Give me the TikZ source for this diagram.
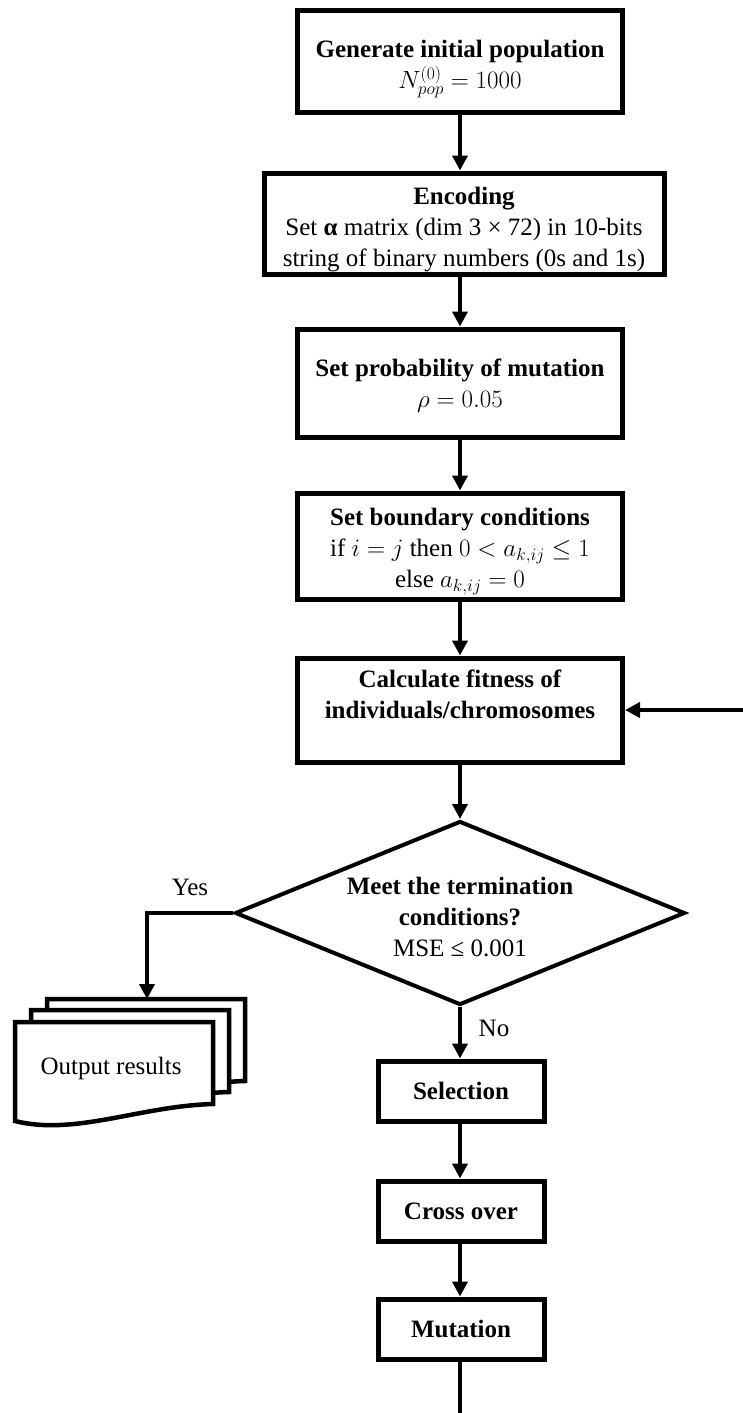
\documentclass[tikz,border=0pt]{standalone}
\usepackage{fix-cm}
\usepackage{fontspec}
\setmainfont{Liberation Serif}
\usetikzlibrary{arrows.meta,shapes.geometric}
\newcommand\myrise[1]{\rule{0pt}{#1pt}}
\begin{document}
\begin{tikzpicture}[x=1pt,y=-1pt,
  every node/.style={font=\fontsize{25}{31}\selectfont},
  box/.style={draw, line width=5pt, rectangle, align=center, inner sep=0pt},
  arr/.style={line width=4pt, -{Triangle[length=15pt,width=15pt]}},
  lnk/.style={line width=4pt},
  doc/.style={draw, fill=white, line width=4.5pt, line join=miter}]
\useasboundingbox (0,0) rectangle (743,1413);

\node[box, minimum width=325pt, minimum height=101pt] (b1) at (460,61.5)
  {\myrise{33}\textbf{Generate initial population}\\$N_{pop}^{(0)} = 1000$};
\node[box, minimum width=400pt, minimum height=101pt] (b2) at (464,223.5)
  {\myrise{29}\textbf{Encoding}\\Set \textbf{α} matrix (dim 3 × 72) in 10-bits\\string of binary numbers (0s and 1s)};
\node[box, minimum width=325pt, minimum height=108pt] (b3) at (460,383)
  {\myrise{23}\textbf{Set probability of mutation}\\$\rho = 0.05$};
\node[box, minimum width=325pt, minimum height=106pt] (b4) at (460,546)
  {\myrise{29}\textbf{Set boundary conditions}\\if $i = j$ then $0 < a_{k,ij} \le 1$\\else $a_{k,ij} = 0$};
\node[box, minimum width=325pt, minimum height=104pt] (b5) at (460,710)
  {\textbf{Calculate fitness of}\\\textbf{individuals/chromosomes}\\\mbox{}};
\node[draw, diamond, aspect=2.45, line width=4pt, minimum width=450pt, minimum height=184pt,
  inner sep=0pt, align=center] (d) at (460,913)
  {\myrise{25}\textbf{Meet the termination}\\\textbf{conditions?}\\MSE ≤ 0.001};
\node[box, minimum width=166pt, minimum height=60pt] (sel) at (461,1091) {\textbf{Selection}};
\node[box, minimum width=166pt, minimum height=60pt] (cro) at (461,1211) {\textbf{Cross over}};
\node[box, minimum width=166pt, minimum height=60pt] (mut) at (461,1329) {\textbf{Mutation}};

% multi-document output
\begin{scope}[shift={(32,-23)}]
\path[doc] (15,1022) -- (213,1022) -- (213,1104) .. controls (140,1106) and (75,1136) .. (15,1121) -- cycle;
\end{scope}
\begin{scope}[shift={(16,-12)}]
\path[doc] (15,1022) -- (213,1022) -- (213,1104) .. controls (140,1106) and (75,1136) .. (15,1121) -- cycle;
\end{scope}
\path[doc] (15,1022) -- (213,1022) -- (213,1104) .. controls (140,1106) and (75,1136) .. (15,1121) -- cycle;
\node (out) at (111,1068) {Output results};
\coordinate (outtop) at (147,999);

% connectors
\draw[arr] (b1.south) -- (b1.south |- b2.north);
\draw[arr] (b3.north |- b2.south) -- (b3.north);
\draw[arr] (b3.south) -- (b4.north);
\draw[arr] (b4.south) -- (b5.north);
\draw[arr] (b5.south) -- (d.north);
\draw[arr] (d.south) -- (d.south |- sel.north);
\draw[arr] (d.south |- sel.south) -- (d.south |- cro.north);
\draw[arr] (d.south |- cro.south) -- (d.south |- mut.north);
\coordinate (mend) at (460,1413);
\draw[lnk] (d.south |- mut.south) -- (mend);
\coordinate (fb) at (743,710);
\draw[arr] (fb) -- (b5.east);
\draw[arr] (d.west) -| (outtop);
\node (yes) at (190,887) {Yes};
\node (no) at (494,1028) {No};
\end{tikzpicture}
\end{document}
